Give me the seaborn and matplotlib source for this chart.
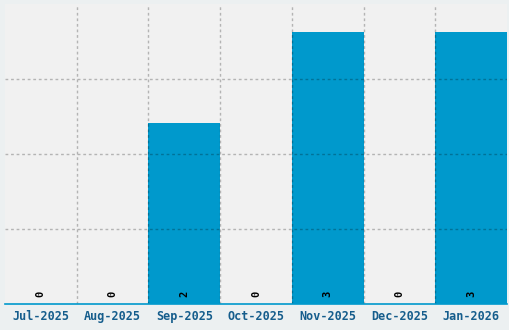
import matplotlib
matplotlib.use("Agg")
import matplotlib.pyplot as plt
import seaborn as sns
import pandas as pd

months = ["Jul-2025", "Aug-2025", "Sep-2025", "Oct-2025", "Nov-2025", "Dec-2025", "Jan-2026"]
counts = [0, 0, 2, 0, 3, 0, 3]

df = pd.DataFrame({"month": months, "count": counts})

sns.set_style("white")
plt.rcParams["font.family"] = ["DejaVu Sans Mono", "DejaVu Sans"]

fig = plt.figure(figsize=(5.1, 3.3), dpi=100, facecolor="#ecf0f1")
ax = fig.add_axes([5/510, 1 - 304/330, 502/510, 300/330])
ax.set_facecolor("#f1f1f1")

sns.barplot(data=df, x="month", y="count", color="#0099cc", width=1.0,
            saturation=1, ax=ax, zorder=1)
for p in ax.patches:
    p.set_edgecolor("none")

ax.set_xlim(-0.5, len(months) - 0.5)
ymax = 3.31
ax.set_ylim(0, ymax)

for i in range(1, len(months)):
    ax.axvline(i - 0.5, color="black", alpha=0.25, lw=1, ls=(0, (2, 2)), zorder=3)
for k in range(1, 4):
    ax.axhline(ymax * k / 4, color="black", alpha=0.25, lw=1, ls=(0, (2, 2)), zorder=3)

for i, v in enumerate(counts):
    ax.text(i, 0.11, str(v), rotation=90, ha="center", va="center",
            fontsize=7.5, fontweight="bold", color="black", zorder=4)

ax.set_yticks([])
ax.set_xlabel("")
ax.set_ylabel("")
ax.tick_params(axis="x", length=0, pad=4, labelsize=8.5, labelcolor="#155d8c")
for lab in ax.get_xticklabels():
    lab.set_fontweight("bold")

for s in ["top", "left", "right"]:
    ax.spines[s].set_visible(False)
ax.spines["bottom"].set_color("#0099cc")
ax.spines["bottom"].set_linewidth(1.2)
ax.spines["bottom"].set_zorder(5)

fig.savefig("out.png", dpi=100, facecolor=fig.get_facecolor())
